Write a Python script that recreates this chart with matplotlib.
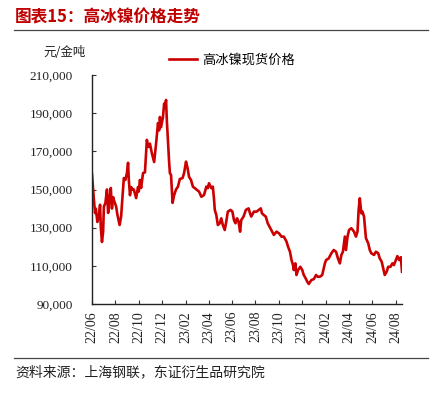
import numpy as np
import pandas as pd
import matplotlib
matplotlib.use("Agg")
import matplotlib.pyplot as plt
from matplotlib.lines import Line2D

# 高冰镍现货价格 (元/金吨)
start = pd.Timestamp("2022-06-01")
day_offset = [0, 3, 5, 8, 10, 14, 18, 21, 23, 26, 29, 31, 35, 39, 42, 46, 49, 52, 55, 57,
              63, 66, 72, 76, 78, 83, 87, 91, 94, 96, 99, 102, 105, 109, 115, 120, 122, 125, 128, 133,
              138, 143, 146, 148, 151, 156, 162, 167, 172, 175, 177, 180, 185, 188, 190, 193, 195, 198, 201, 203,
              206, 210, 214, 219, 224, 229, 236, 240, 245, 249, 253, 258, 263, 268, 274, 279, 285, 292, 298, 302,
              305, 311, 315, 318, 320, 324, 328, 333, 337, 341, 346, 350, 354, 361, 366, 370, 374, 378, 382, 386,
              389, 395, 401, 408, 412, 415, 422, 429, 435, 440, 443, 448, 453, 458, 464, 469, 474, 481, 487, 494,
              500, 507, 511, 516, 520, 524, 526, 530, 533, 537, 543, 548, 552, 557, 561, 565, 572, 578, 584, 588,
              594, 600, 607, 610, 617, 624, 630, 636, 641, 646, 650, 654, 659, 662, 666, 670, 676, 683, 688, 692,
              695, 698, 702, 705, 709, 714, 720, 724, 728, 735, 740, 746, 750, 755, 759, 763, 768, 772, 778, 783,
              787, 792, 796, 801, 805, 808]
price = [158000, 150000, 144500, 137700, 140000, 133000, 136000, 142000, 130000, 122500, 128000, 141000, 143000, 150000, 137700, 146000, 150800, 140000, 146000, 144500,
         141000, 137000, 131400, 136000, 142000, 156000, 155000, 158600, 164000, 155000, 147000, 151300, 150000, 150000, 145500, 151300, 149000, 155000, 150800, 158600,
         159000, 176000, 173000, 172300, 174000, 169000, 164400, 174000, 184800, 181000, 188000, 182700, 188000, 195000, 193000, 196900, 186400, 175000, 164400, 158600,
         157600, 143000, 147000, 150000, 151500, 155500, 156000, 158600, 164600, 161300, 156600, 155000, 151500, 150700, 149800, 148900, 146200, 147100, 151500, 150700,
         153300, 150700, 151500, 145000, 139300, 136600, 131400, 132300, 134900, 131400, 128800, 133200, 138400, 139300, 138400, 134000, 132300, 134900, 133200, 127900,
         134000, 135800, 139300, 140100, 137500, 135800, 138400, 138400, 139300, 140100, 137500, 136600, 135800, 132300, 130000, 128000, 126200, 127900, 127100, 125300,
         125300, 122700, 120000, 117400, 113000, 110400, 107800, 111300, 105200, 107800, 109500, 107800, 105200, 103400, 101700, 100500, 102600, 103000, 105200, 104300,
         104300, 105200, 111300, 113000, 113900, 116600, 118300, 117400, 113900, 111300, 115700, 117400, 125300, 118300, 125300, 128800, 129700, 127900, 125300, 127900,
         139300, 145400, 137500, 138400, 135800, 124500, 121800, 118300, 116600, 115700, 117400, 116600, 113900, 112200, 108700, 105200, 106900, 109500, 109500, 111300,
         110400, 113000, 115100, 113000, 114500, 106900]

yticks = [90000, 110000, 130000, 150000, 170000, 190000, 210000]
xtick_dates = ["2022-06-01", "2022-08-01", "2022-10-01", "2022-12-01", "2023-02-01", "2023-04-01", "2023-06-01",
               "2023-08-01", "2023-10-01", "2023-12-01", "2024-02-01", "2024-04-01", "2024-06-01", "2024-08-01"]
xtick_labels = ["22/06", "22/08", "22/10", "22/12", "23/02", "23/04", "23/06",
                "23/08", "23/10", "23/12", "24/02", "24/04", "24/06", "24/08"]

dates = start + pd.to_timedelta(day_offset, unit="D")

cjk = ["Noto Sans CJK SC", "DejaVu Sans"]
serif = "Liberation Serif"
red = "#CC0000"

fig = plt.figure(figsize=(4.36, 3.93), dpi=100)
ax = fig.add_axes([92 / 436, 1 - 304 / 393, (402 - 92) / 436, (304 - 75) / 393])

ax.plot(dates, price, color=red, lw=1.9, label="高冰镍现货价格", solid_joinstyle="round")

ax.set_ylim(90000, 210000)
ax.set_yticks(yticks)
ax.set_yticklabels([f"{v:,}" for v in yticks], fontfamily=serif, fontsize=9.5, color="#222222")
ax.set_xlim(start, pd.Timestamp("2024-08-17"))
ax.set_xticks(pd.to_datetime(xtick_dates))
ax.set_xticklabels(xtick_labels, rotation=90, fontfamily=serif, fontsize=10, color="#222222")
ax.tick_params(direction="in", length=3, width=0.8, color="#333333", pad=5)
ax.tick_params(axis="y", pad=14)
for s in ["top", "right"]:
    ax.spines[s].set_visible(False)
for s in ["left", "bottom"]:
    ax.spines[s].set_color("#222222")
    ax.spines[s].set_linewidth(1.0)

ax.legend(loc="center left", bbox_to_anchor=(157 / 436, 1 - 60 / 393), bbox_transform=fig.transFigure,
          frameon=False, handlelength=2.1, handletextpad=0.4,
          prop={"family": cjk, "size": 9.5})

fig.text(15 / 436, 1 - 18 / 393, "图表15：高冰镍价格走势", color="#C00000", fontsize=12,
         fontweight="bold", family=cjk, va="center", ha="left")
fig.add_artist(Line2D([14 / 436, 428 / 436], [1 - 30 / 393] * 2, color="#444444", lw=0.9))
fig.text(43 / 436, 1 - 52 / 393, "元/金吨", fontsize=9, family=cjk, va="center", ha="left", color="#222222")
fig.add_artist(Line2D([14 / 436, 428 / 436], [1 - 358 / 393] * 2, color="#444444", lw=0.9))
fig.text(15 / 436, 1 - 372 / 393, "资料来源：上海钢联，东证衍生品研究院", fontsize=10, family=cjk,
         va="center", ha="left", color="#222222")

fig.savefig("out.png", dpi=100)
